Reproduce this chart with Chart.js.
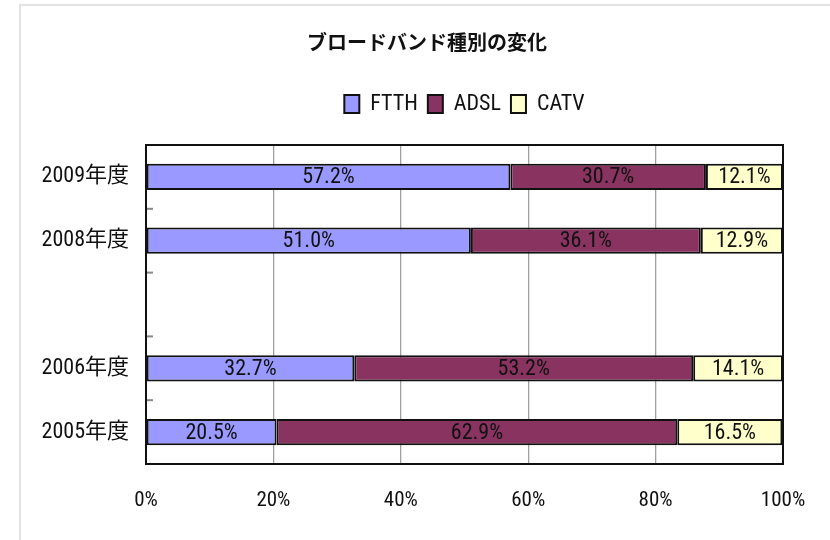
<!DOCTYPE html>
<html><head><meta charset="utf-8">
<script src="https://cdn.jsdelivr.net/npm/chart.js@4/dist/chart.umd.min.js"></script>
<style>
html,body{margin:0;padding:0;background:#fff;overflow:hidden}
#wrap{position:relative;width:830px;height:540px;overflow:hidden}
#frame{position:absolute;left:19px;top:4px;width:900px;height:700px;border-left:2px solid #e2e2e2;border-top:2px solid #e2e2e2}
canvas{position:absolute;left:0;top:0}
</style></head><body>
<div id="wrap"><div id="frame"></div><canvas id="c" width="830" height="540"></canvas></div>
<script>
const chartTitle = 'ブロードバンド種別の変化';
const categories = ['2009年度', '2008年度', '', '2006年度', '2005年度'];
const seriesNames = ['FTTH', 'ADSL', 'CATV'];
const ftth = [57.2, 51.0, null, 32.7, 20.5];
const adsl = [30.7, 36.1, null, 53.2, 62.9];
const catv = [12.1, 12.9, null, 14.1, 16.5];
const xTickValues = [0, 20, 40, 60, 80, 100];
const seriesColors = ['#9999FF', '#883360', '#FFFFCC'];

const NARROW = "'Roboto Condensed', 'Noto Sans CJK JP', sans-serif";
const CJK = "'Noto Sans CJK JP', sans-serif";

const seriesValues = [ftth, adsl, catv];
const datasets = seriesNames.map((name, i) => ({
  label: name,
  data: seriesValues[i],
  backgroundColor: seriesColors[i],
  borderColor: '#111',
  borderWidth: 2,
  borderSkipped: false,
  barPercentage: 0.41,
  categoryPercentage: 1.0
}));

const legendGap = {
  id: 'legendGap',
  beforeInit(chart) {
    const l = chart.legend;
    if (!l) return;
    const f = l.fit;
    l.fit = function () { f.call(this); this.height += 20; };
  },
  afterLayout(chart) {
    const t = chart.titleBlock;
    if (t) { t.left = chart.chartArea.left - 75; t.right = chart.chartArea.right; t.width = t.right - t.left; }
  }
};

const plotFrame = {
  id: 'plotFrame',
  afterDraw(chart) {
    const {ctx, chartArea: a} = chart;
    const y = chart.scales.y;
    ctx.save();
    ctx.strokeStyle = '#888';
    ctx.lineWidth = 2;
    for (let i = 1; i < categories.length; i++) {
      const py = (y.getPixelForValue(i - 1) + y.getPixelForValue(i)) / 2;
      ctx.beginPath();
      ctx.moveTo(a.left, py);
      ctx.lineTo(a.left + 7, py);
      ctx.stroke();
    }
    ctx.strokeStyle = '#111';
    ctx.lineWidth = 2;
    ctx.strokeRect(a.left, a.top, a.right - a.left, a.bottom - a.top);
    ctx.restore();
  }
};

const barLabels = {
  id: 'barLabels',
  afterDatasetsDraw(chart) {
    const {ctx} = chart;
    ctx.save();
    ctx.font = '22px ' + NARROW;
    ctx.fillStyle = '#111';
    ctx.textAlign = 'center';
    ctx.textBaseline = 'middle';
    chart.data.datasets.forEach((ds, di) => {
      const meta = chart.getDatasetMeta(di);
      meta.data.forEach((el, i) => {
        const v = ds.data[i];
        if (v === null || v === undefined) return;
        const p = el.getProps(['x', 'y', 'base'], true);
        ctx.fillText(v.toFixed(1) + '%', (p.x + p.base) / 2, p.y + 1);
      });
    });
    ctx.restore();
  }
};

new Chart(document.getElementById('c'), {
  type: 'bar',
  data: { labels: categories, datasets },
  options: {
    indexAxis: 'y',
    responsive: false,
    animation: false,
    layout: { padding: { left: 20, right: 47, top: 0, bottom: 0 } },
    scales: {
      x: {
        stacked: true,
        min: 0, max: 100,
        afterBuildTicks: (s) => { s.ticks = xTickValues.map(v => ({ value: v })); },
        ticks: { callback: (v) => v + '%', font: { family: NARROW, size: 21 }, color: '#111', padding: 24, maxRotation: 0 },
        grid: { color: '#a0a0a0', lineWidth: 1.3, drawTicks: false },
        border: { display: false },
        afterFit: (s) => { s.height = 76; s.paddingLeft = 0; s.paddingRight = 0; }
      },
      y: {
        stacked: true,
        ticks: { font: { family: NARROW, size: 22 }, color: '#111', padding: 17 },
        grid: { display: false, drawTicks: false },
        border: { display: false },
        afterFit: (s) => { s.width = 126; }
      }
    },
    plugins: {
      title: {
        display: true,
        text: chartTitle,
        color: '#111',
        font: { family: CJK, size: 20, weight: 'bold' },
        padding: { top: 30, bottom: 29 }
      },
      legend: {
        display: true,
        fullSize: false,
        labels: {
          boxWidth: 15, boxHeight: 18, padding: 10,
          color: '#111',
          font: { family: NARROW, size: 22 }
        }
      },
      tooltip: { enabled: false }
    }
  },
  plugins: [legendGap, plotFrame, barLabels]
});
</script>
</body></html>
